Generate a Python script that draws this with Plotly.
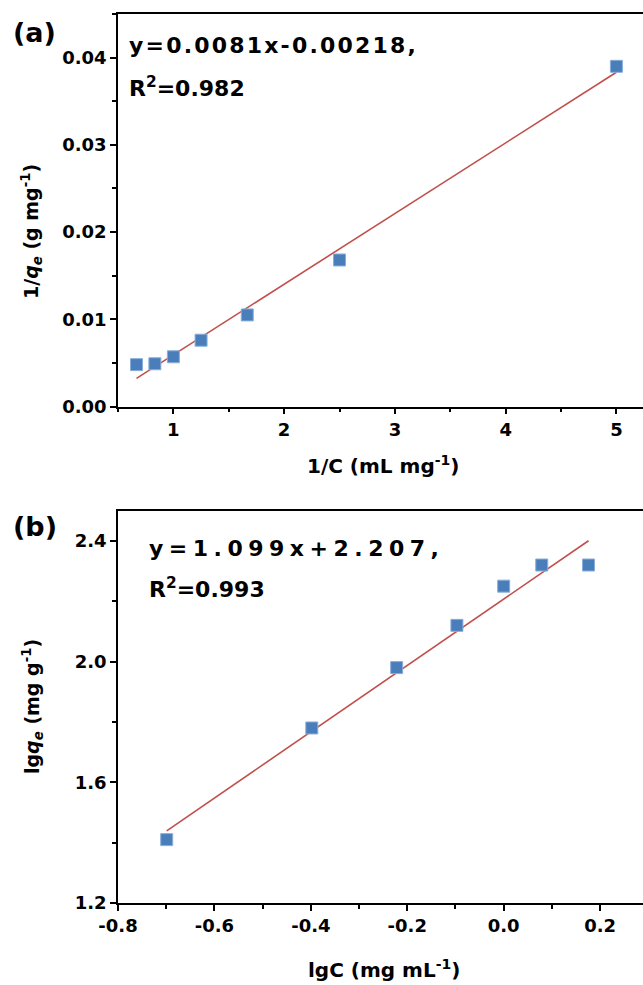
import plotly.graph_objects as go

# ---- data (a): Langmuir linear form ----
inv_c = [0.667, 0.833, 1.0, 1.25, 1.667, 2.5, 5.0]
inv_q = [0.0048, 0.0049, 0.0057, 0.0076, 0.0105, 0.0168, 0.0390]
fit_a_slope, fit_a_int = 0.0081, -0.00218
xa_ticks = [1, 2, 3, 4, 5]
xa_labels = ["1", "2", "3", "4", "5"]
ya_ticks = [0.0, 0.01, 0.02, 0.03, 0.04]
ya_labels = ["0.00", "0.01", "0.02", "0.03", "0.04"]

# ---- data (b): Freundlich linear form ----
lg_c = [-0.699, -0.398, -0.222, -0.097, 0.0, 0.079, 0.176]
lg_q = [1.41, 1.78, 1.98, 2.12, 2.25, 2.32, 2.32]
fit_b_slope, fit_b_int = 1.099, 2.207
xb_ticks = [-0.8, -0.6, -0.4, -0.2, 0.0, 0.2]
xb_labels = ["-0.8", "-0.6", "-0.4", "-0.2", "0.0", "0.2"]
yb_ticks = [1.2, 1.6, 2.0, 2.4]
yb_labels = ["1.2", "1.6", "2.0", "2.4"]

fit_a_x = [min(inv_c), max(inv_c)]
fit_a_y = [fit_a_slope * v + fit_a_int for v in fit_a_x]
fit_b_x = [min(lg_c), max(lg_c)]
fit_b_y = [fit_b_slope * v + fit_b_int for v in fit_b_x]

W, H = 643, 985
FONT = "DejaVu Sans"
BLUE = "#4A7EBB"
RED = "#C0504D"

fig = go.Figure()

marker = dict(symbol="square", size=12, color=BLUE, line=dict(color="#8AAEDB", width=1))

fig.add_trace(go.Scatter(x=fit_a_x, y=fit_a_y, mode="lines", line=dict(color=RED, width=1.6),
                         xaxis="x", yaxis="y", showlegend=False))
fig.add_trace(go.Scatter(x=inv_c, y=inv_q, mode="markers", marker=marker,
                         xaxis="x", yaxis="y", showlegend=False))
fig.add_trace(go.Scatter(x=fit_b_x, y=fit_b_y, mode="lines", line=dict(color=RED, width=1.6),
                         xaxis="x2", yaxis="y2", showlegend=False))
fig.add_trace(go.Scatter(x=lg_c, y=lg_q, mode="markers", marker=marker,
                         xaxis="x2", yaxis="y2", showlegend=False))

tickfont = dict(family=FONT, size=18, color="black", weight="bold")

def xax(anchor, rng, tv, tt, minor_dtick):
    return dict(range=rng, tickmode="array", tickvals=tv, ticktext=tt,
                showline=True, linecolor="black", linewidth=1.6,
                mirror=True, ticks="outside", ticklen=6, tickwidth=1.6, tickcolor="black",
                showgrid=False, zeroline=False, tickfont=tickfont,
                minor=dict(dtick=minor_dtick, tick0=0, ticks="outside", ticklen=4, tickwidth=1.6,
                           tickcolor="black", showgrid=False),
                automargin=False, domain=[118 / W, 1.0], anchor=anchor)

def yax(domain, rng, tv, tt, minor_dtick, anchor):
    return dict(range=rng, tickmode="array", tickvals=tv, ticktext=tt,
                showline=True, linecolor="black", linewidth=1.6,
                mirror=False, ticks="outside", ticklen=6, tickwidth=1.6, tickcolor="black",
                showgrid=False, zeroline=False, tickfont=tickfont,
                minor=dict(dtick=minor_dtick, tick0=0, ticks="outside", ticklen=4, tickwidth=1.6,
                           tickcolor="black", showgrid=False),
                automargin=False, domain=domain, anchor=anchor)

fig.update_layout(
    width=W, height=H,
    margin=dict(l=0, r=0, t=0, b=0),
    paper_bgcolor="white", plot_bgcolor="white",
    xaxis=xax("y", [0.5, 5.24], xa_ticks, xa_labels, 0.5),
    yaxis=yax([1 - 406.5 / H, 1 - 14 / H], [0, 0.045], ya_ticks, ya_labels, 0.005, "x"),
    xaxis2=xax("y2", [-0.8, 0.289], xb_ticks, xb_labels, 0.1),
    yaxis2=yax([1 - 903 / H, 1 - 510.7 / H], [1.2, 2.5], yb_ticks, yb_labels, 0.2, "x2"),
)

def ann(text, x, y, size, xanchor="left", angle=0):
    fig.add_annotation(text=text, xref="paper", yref="paper", x=x / W, y=1 - y / H,
                       xanchor=xanchor, yanchor="middle", showarrow=False, textangle=angle,
                       font=dict(family=FONT, size=size, color="black", weight="bold"))

# panel labels
ann("(a)", 11, 32, 27)
ann("(b)", 11, 526, 27)

# fit equations (letter-spaced as in the original figure)
hs = "\u200a"
ann(hs.join("y=0.0081x-0.00218,"), 127, 45, 22)
ann("R<sup>2</sup>=0.982", 127, 87, 22)
ann("\u2005".join("y=1.099x+2.207,"), 147, 548, 22)
ann("R<sup>2</sup>=0.993", 147, 588, 22)

# axis titles
ann("1/C (mL mg<sup>-1</sup>)", 383, 465, 20, xanchor="center")
ann("lgC (mg mL<sup>-1</sup>)", 384, 969, 20, xanchor="center")
ann("1/<i>q</i><sub><i>e</i></sub> (g mg<sup>-1</sup>)", 32, 232, 19, xanchor="center", angle=-90)
ann("lg<i>q</i><sub><i>e</i></sub> (mg g<sup>-1</sup>)", 32, 707, 19, xanchor="center", angle=-90)

fig.write_html("out.html", config={"displayModeBar": False},
               post_script="document.body.style.margin='0';document.body.style.overflow='hidden';")
